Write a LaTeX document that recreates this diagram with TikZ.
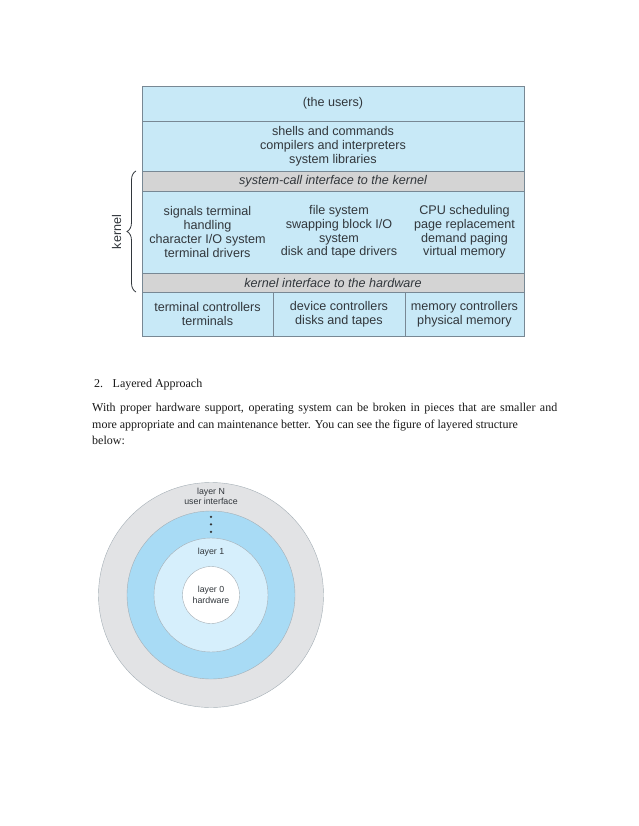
\documentclass[tikz,border=0pt]{standalone}
\usepackage{fontspec}
\setmainfont{Liberation Serif}
\setsansfont{Liberation Sans}
\usetikzlibrary{positioning,decorations.pathreplacing}
\definecolor{tblue}{RGB}{200,233,247}
\definecolor{tgray}{RGB}{212,212,212}
\definecolor{tline}{RGB}{120,136,148}
\definecolor{ttext}{RGB}{50,55,60}
\definecolor{cgray}{RGB}{226,227,229}
\definecolor{cblue}{RGB}{168,219,245}
\definecolor{clight}{RGB}{214,239,252}
\definecolor{cline}{RGB}{165,175,182}
\newcommand{\tblfont}{\sffamily\fontsize{12.6}{13.8}\selectfont}

\begin{document}
\begin{tikzpicture}[x=1pt, y=-1pt, node distance=0pt,
  layer/.style={rectangle, draw=tline, fill=tblue, minimum width=382pt,
                inner sep=0pt, outer sep=0pt, align=center, text=ttext, font=\tblfont},
  iface/.style={layer, fill=tgray, font=\tblfont\itshape},
  cell/.style={layer, minimum height=44pt},
  ktext/.style={align=center, text=ttext, inner sep=0pt, font=\tblfont},
  ring/.style={circle, draw=cline, inner sep=0pt},
  ctext/.style={align=center, text=ttext, inner sep=0pt,
                font=\sffamily\fontsize{8.8}{10.5}\selectfont},
  body/.style={inner sep=0pt, text=black!90, font=\fontsize{12}{16.5}\selectfont}]
  \useasboundingbox[fill=white] (0,0) rectangle (638,826);

  % layered table
  \node[layer, minimum height=35pt] (users) at (333,103.5) {(the users)};
  \node[layer, minimum height=50pt, below=of users] (shells)
       {shells and commands\\compilers and interpreters\\system libraries};
  \node[iface, minimum height=20pt, below=of shells] (syscall)
       {system-call interface to the kernel};
  \node[layer, minimum height=82pt, below=of syscall] (kern) {};
  \node[iface, minimum height=19pt, below=of kern] (kiface)
       {kernel interface to the hardware};
  \node[cell, minimum width=131pt, anchor=north west] (hw1) at (kiface.south west)
       {terminal controllers\\terminals};
  \node[cell, minimum width=132pt, right=of hw1] (hw2) {device controllers\\disks and tapes};
  \node[cell, minimum width=119pt, right=of hw2] (hw3) {memory controllers\\physical memory};

  \node[ktext] (k1) at (hw1 |- kern) {signals terminal\\handling\\character I/O system\\terminal drivers};
  \node[ktext] (k2) at (hw2 |- kern) {file system\\swapping block I/O\\system\\disk and tape drivers};
  \node[ktext] (k3) at (hw3 |- kern) {CPU scheduling\\page replacement\\demand paging\\virtual memory};

  \draw[ttext, line width=0.8pt, decorate, decoration={brace, amplitude=9pt}]
       ([xshift=-6pt]kiface.south west) -- ([xshift=-6pt]syscall.north west);
  \node[ktext, rotate=90, anchor=south] (klbl) at ([xshift=-20.5pt]kern.west) {kernel};

  % text
  \node[body, anchor=base west] (head) at (94,387) {2.\hspace{9.5pt}Layered Approach};
  \node[body, anchor=base west, text width=465pt, align=justify] (para) at (92,411.5)
       {With proper hardware support, operating system can be broken in pieces that are smaller and\linebreak
        more appropriate and can maintenance better. You can see the figure of layered structure\newline
        below:};

  % layered rings
  \node[ring, fill=cgray, minimum size=225pt] (ringN) at (211,595) {};
  \node[ring, fill=cblue, minimum size=168pt] (ringM) at (ringN.center) {};
  \node[ring, fill=clight, minimum size=114pt] (ring1) at (ringN.center) {};
  \node[ring, fill=white, minimum size=57pt, ctext] (ring0) at (ringN.center) {layer 0\\hardware};
  \node[ctext] (lblN) at ([yshift=-14pt]ringN.north) {layer N\\user interface};
  \foreach \d in {6,13.5,21}
    \fill[black!80] ([yshift=-\d pt]ringM.north) circle (1.3pt);
  \node[ctext] (lbl1) at ([yshift=-14pt]ring1.north) {layer 1};
\end{tikzpicture}
\end{document}
